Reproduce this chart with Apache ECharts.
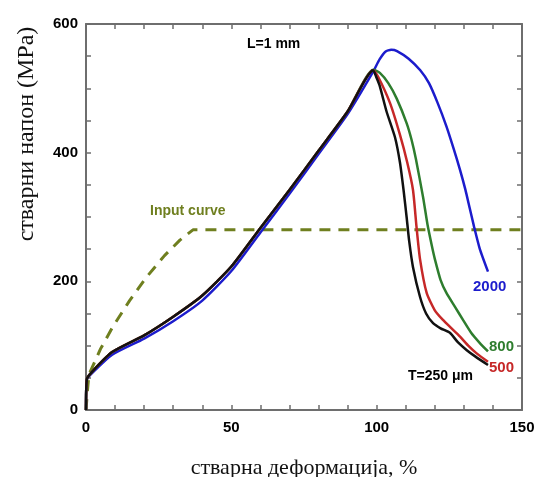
<!DOCTYPE html>
<html>
<head>
<meta charset="utf-8">
<script src="https://cdn.jsdelivr.net/npm/echarts@6/dist/echarts.min.js"></script>
<style>
  html, body { margin: 0; padding: 0; background: #fff; }
  #main { width: 537px; height: 477px; }
</style>
</head>
<body>
<div id="main"></div>
<script>
// 数据 (деформација %, напон MPa)
var xTicks = [0, 50, 100, 150];
var yTicks = [0, 200, 400, 600];

var inputCurve = [[0, 0], [0.5, 30], [1, 55], [5, 95], [9.3, 130], [15, 170], [20.9, 207], [27, 240], [32.3, 264], [36.8, 280], [150, 280]];

var t2000 = [[0, 0], [0.3, 47], [2, 57], [9, 86], [20, 111], [30, 138], [40, 170], [50, 216], [60, 276], [70, 336], [80, 398], [90, 460], [98.8, 526], [101, 545], [103, 557], [105, 560], [107, 558], [111, 546], [115, 528], [118, 508], [121, 477], [124, 441], [126.5, 406], [128.7, 373], [130.5, 343], [132, 314], [133.5, 285], [135.5, 250], [138.3, 215]];

var t800 = [[0, 0], [0.3, 48], [2, 59], [9, 90], [20, 116], [30, 145], [40, 178], [50, 223], [60, 283], [70, 342], [80, 403], [90, 464], [98.8, 529], [101.1, 524], [104, 508], [106.9, 484], [110.3, 446], [112, 420], [113.5, 390], [116, 330], [117.5, 288], [119, 255], [120, 235], [122, 202], [124, 182], [127, 160], [129.7, 140], [132.5, 120], [135.5, 104], [138.3, 91]];

var t500 = [[0, 0], [0.3, 48], [2, 59], [9, 90], [20, 116], [30, 145], [40, 178], [50, 223], [60, 283], [70, 342], [80, 403], [90, 464], [98.8, 528], [100.5, 518], [104.6, 477], [108, 428], [110.5, 385], [112.5, 342], [113.7, 285], [114.9, 235], [117.2, 182], [120, 155], [122.8, 140], [125.5, 128], [128.7, 114], [131.5, 100], [134.4, 88], [138.3, 75]];

var t250 = [[0, 0], [0.3, 48], [2, 59], [9, 90], [20, 116], [30, 145], [40, 178], [50, 223], [60, 283], [70, 342], [80, 403], [90, 464], [98.8, 528], [100, 516], [101.1, 503], [103.4, 464], [106.3, 424], [108, 385], [109.3, 340], [110.3, 300], [111.2, 262], [112.5, 222], [114.9, 176], [117, 150], [119.4, 135], [122, 127], [125.2, 120], [128, 105], [131, 93], [134, 83], [138.3, 70]];

var frameColor = '#6e6e6e';
var labelFont = { color: '#000', fontFamily: 'Liberation Sans', fontWeight: 'bold', fontSize: 15 };

function line(name, data, color) {
  return {
    name: name, type: 'line', data: data, showSymbol: false, smooth: 0.2,
    lineStyle: { color: color, width: 2.5 }, z: 3
  };
}

// 坐标轴框 (四边, 刻度朝内)
function frameAxis(extra) {
  return Object.assign({
    type: 'value',
    axisLine: { show: true, onZero: false, lineStyle: { color: frameColor, width: 2 } },
    axisTick: { show: true, inside: true, length: 5, lineStyle: { color: frameColor, width: 1.5 } },
    splitLine: { show: false }
  }, extra);
}

var myChart = echarts.init(document.getElementById('main'));
var option = {
  animation: false,
  grid: { left: 86, right: 15, top: 24, bottom: 67, outerBoundsMode: 'none', containLabel: false },
  xAxis: [
    frameAxis({
      min: 0, max: 150, interval: 10,
      name: 'стварна деформација, %', nameLocation: 'middle', nameGap: 47,
      nameTextStyle: { fontFamily: 'Liberation Serif', fontSize: 22, color: '#111' },
      axisLabel: Object.assign({ margin: 10, formatter: function (v) { return xTicks.indexOf(v) >= 0 ? v : ''; } }, labelFont)
    }),
    frameAxis({ position: 'top', min: 0, max: 150, interval: 10, axisLabel: { show: false } })
  ],
  yAxis: [
    frameAxis({
      min: 0, max: 600, interval: 50,
      axisLabel: Object.assign({ margin: 8, formatter: function (v) { return yTicks.indexOf(v) >= 0 ? v : ''; } }, labelFont)
    }),
    frameAxis({ position: 'right', min: 0, max: 600, interval: 50, axisLabel: { show: false } })
  ],
  series: [
    {
      name: 'Input curve', type: 'line', data: inputCurve, showSymbol: false,
      lineStyle: { color: '#6f7f1f', width: 3, type: [11, 8] }, z: 2
    },
    line('2000', t2000, '#1c1ccc'),
    line('800', t800, '#2e7d2e'),
    line('500', t500, '#c62828'),
    line('250', t250, '#111111')
  ],
  graphic: [
    { type: 'text', x: 27, y: 134, rotation: Math.PI / 2, style: { text: 'стварни напон (MPa)', fontFamily: 'Liberation Serif', fontSize: 24, fill: '#111', align: 'center', verticalAlign: 'middle' } },
    { type: 'text', x: 247, y: 37, style: { text: 'L=1 mm', font: 'bold 14px Liberation Sans', fill: '#000' } },
    { type: 'text', x: 150, y: 204, style: { text: 'Input curve', font: 'bold 14px Liberation Sans', fill: '#6f7f1f' } },
    { type: 'text', x: 473, y: 279, style: { text: '2000', font: 'bold 15px Liberation Sans', fill: '#1c1ccc' } },
    { type: 'text', x: 489, y: 339, style: { text: '800', font: 'bold 15px Liberation Sans', fill: '#2e7d2e' } },
    { type: 'text', x: 489, y: 360, style: { text: '500', font: 'bold 15px Liberation Sans', fill: '#c62828' } },
    { type: 'text', x: 408, y: 369, style: { text: 'T=250 μm', font: 'bold 14px Liberation Sans', fill: '#000' } }
  ]
};
myChart.setOption(option);
</script>
</body>
</html>
